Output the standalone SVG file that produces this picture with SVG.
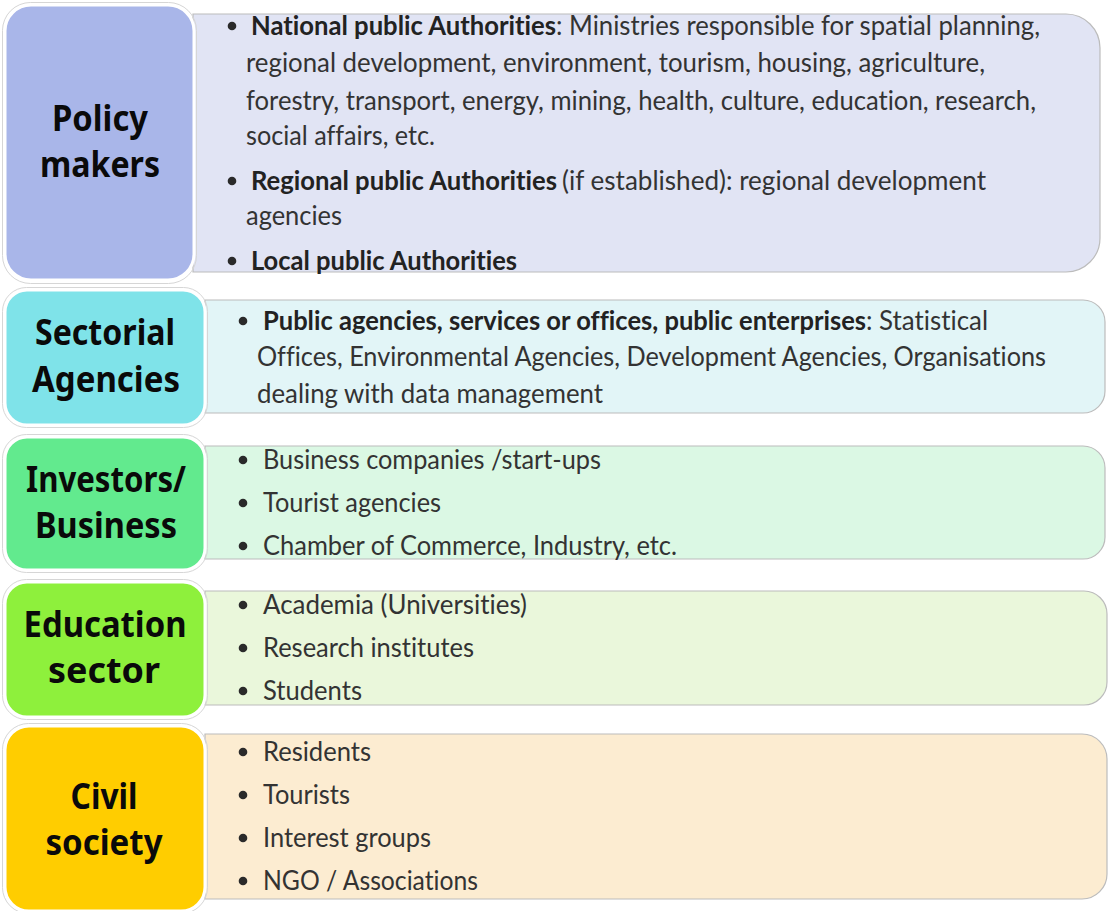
<svg xmlns="http://www.w3.org/2000/svg" width="1108" height="911" viewBox="0 0 1108 911">
<style>
.lab{font-family:"Noto Sans","Open Sans",sans-serif;font-weight:700;font-size:35px;fill:#0a0a0a;text-anchor:middle}
.t{font-family:Lato,"Liberation Sans",sans-serif;font-size:26px;fill:#333;font-variant-ligatures:none}
.b{font-weight:700;fill:#222}
.lbox{stroke:#ffffff;stroke-width:3}
.halo{fill:none;stroke:#d6d6d6;stroke-width:1}
.rbox{stroke:#bcbcbc;stroke-width:1.2}
.dot{fill:#2a2a2a}
</style>
<rect width="1108" height="911" fill="#ffffff"/>

<g id="policy-makers">
<path class="rbox" fill="#e1e4f4" d="M193,14 H1066 A34,34 0 0 1 1100,48 V238 A34,34 0 0 1 1066,272 H193 Z"/>
<rect class="halo" x="2.5" y="2.5" width="194" height="281" rx="28"/>
<rect class="lbox" fill="#a9b6e9" x="5" y="5" width="189" height="275" rx="26"/>
<text class="lab" x="100" y="131" textLength="96" lengthAdjust="spacingAndGlyphs">Policy</text>
<text class="lab" x="100" y="177" textLength="120" lengthAdjust="spacingAndGlyphs">makers</text>
<circle class="dot" cx="232" cy="26" r="4.3"/>
<text class="t b" x="251" y="35" textLength="305" lengthAdjust="spacingAndGlyphs">National public Authorities</text>
<text class="t" x="556" y="35" textLength="484" lengthAdjust="spacingAndGlyphs">: Ministries responsible for spatial planning,</text>
<text class="t" x="246" y="72" textLength="739" lengthAdjust="spacingAndGlyphs">regional development, environment, tourism, housing, agriculture,</text>
<text class="t" x="246" y="110" textLength="790" lengthAdjust="spacingAndGlyphs">forestry, transport, energy, mining, health, culture, education, research,</text>
<text class="t" x="246" y="145" textLength="189" lengthAdjust="spacingAndGlyphs">social affairs, etc.</text>
<circle class="dot" cx="232" cy="181" r="4.3"/>
<text class="t b" x="251" y="190" textLength="306" lengthAdjust="spacingAndGlyphs">Regional public Authorities</text>
<text class="t" x="562" y="190" textLength="424" lengthAdjust="spacingAndGlyphs">(if established): regional development</text>
<text class="t" x="246" y="225" textLength="96" lengthAdjust="spacingAndGlyphs">agencies</text>
<circle class="dot" cx="232" cy="261" r="4.3"/>
<text class="t b" x="251" y="270" textLength="266" lengthAdjust="spacingAndGlyphs">Local public Authorities</text>
</g>

<g id="sectorial-agencies">
<path class="rbox" fill="#e2f5f7" d="M205,300 H1083 A22,22 0 0 1 1105,322 V391 A22,22 0 0 1 1083,413 H205 Z"/>
<rect class="halo" x="2.5" y="287.5" width="205" height="140" rx="24"/>
<rect class="lbox" fill="#7fe3e9" x="5" y="290" width="200" height="135" rx="22"/>
<text class="lab" x="105" y="345" textLength="140" lengthAdjust="spacingAndGlyphs">Sectorial</text>
<text class="lab" x="106" y="392" textLength="148" lengthAdjust="spacingAndGlyphs">Agencies</text>
<circle class="dot" cx="243" cy="321" r="4.3"/>
<text class="t b" x="263" y="330" textLength="603" lengthAdjust="spacingAndGlyphs">Public agencies, services or offices, public enterprises</text>
<text class="t" x="866" y="330" textLength="122" lengthAdjust="spacingAndGlyphs">: Statistical</text>
<text class="t" x="257" y="366" textLength="789" lengthAdjust="spacingAndGlyphs">Offices, Environmental Agencies, Development Agencies, Organisations</text>
<text class="t" x="257" y="403" textLength="346" lengthAdjust="spacingAndGlyphs">dealing with data management</text>
</g>

<g id="investors-business">
<path class="rbox" fill="#dbf8e4" d="M205,446 H1083 A22,22 0 0 1 1105,468 V537 A22,22 0 0 1 1083,559 H205 Z"/>
<rect class="halo" x="2.5" y="434.5" width="205" height="138" rx="24"/>
<rect class="lbox" fill="#62ea8e" x="5" y="437" width="200" height="133" rx="22"/>
<text class="lab" x="106" y="492" textLength="160" lengthAdjust="spacingAndGlyphs">Investors/</text>
<text class="lab" x="106" y="538" textLength="142" lengthAdjust="spacingAndGlyphs">Business</text>
<circle class="dot" cx="243" cy="460" r="4.3"/>
<text class="t" x="263" y="469" textLength="338" lengthAdjust="spacingAndGlyphs">Business companies /start-ups</text>
<circle class="dot" cx="243" cy="503" r="4.3"/>
<text class="t" x="263" y="512" textLength="178" lengthAdjust="spacingAndGlyphs">Tourist agencies</text>
<circle class="dot" cx="243" cy="546" r="4.3"/>
<text class="t" x="263" y="555" textLength="414" lengthAdjust="spacingAndGlyphs">Chamber of Commerce, Industry, etc.</text>
</g>

<g id="education-sector">
<path class="rbox" fill="#eaf7db" d="M205,591 H1084 A23,23 0 0 1 1107,614 V682 A23,23 0 0 1 1084,705 H205 Z"/>
<rect class="halo" x="2.5" y="579.5" width="205" height="140" rx="24"/>
<rect class="lbox" fill="#8ef03c" x="5" y="582" width="200" height="135" rx="22"/>
<text class="lab" x="105" y="637" textLength="163" lengthAdjust="spacingAndGlyphs">Education</text>
<text class="lab" x="104" y="683" textLength="112" lengthAdjust="spacingAndGlyphs">sector</text>
<circle class="dot" cx="243" cy="605" r="4.3"/>
<text class="t" x="263" y="614" textLength="264" lengthAdjust="spacingAndGlyphs">Academia (Universities)</text>
<circle class="dot" cx="243" cy="648" r="4.3"/>
<text class="t" x="263" y="657" textLength="211" lengthAdjust="spacingAndGlyphs">Research institutes</text>
<circle class="dot" cx="243" cy="691" r="4.3"/>
<text class="t" x="263" y="700" textLength="99" lengthAdjust="spacingAndGlyphs">Students</text>
</g>

<g id="civil-society">
<path class="rbox" fill="#fcecd1" d="M205,734 H1082 A25,25 0 0 1 1107,759 V874 A25,25 0 0 1 1082,899 H205 Z"/>
<rect class="halo" x="2.5" y="723.5" width="205" height="190" rx="26"/>
<rect class="lbox" fill="#ffcd00" x="5" y="726" width="200" height="185" rx="24"/>
<text class="lab" x="104" y="809" textLength="67" lengthAdjust="spacingAndGlyphs">Civil</text>
<text class="lab" x="104" y="855" textLength="117" lengthAdjust="spacingAndGlyphs">society</text>
<circle class="dot" cx="243" cy="752" r="4.3"/>
<text class="t" x="263" y="761" textLength="108" lengthAdjust="spacingAndGlyphs">Residents</text>
<circle class="dot" cx="243" cy="795" r="4.3"/>
<text class="t" x="263" y="804" textLength="87" lengthAdjust="spacingAndGlyphs">Tourists</text>
<circle class="dot" cx="243" cy="838" r="4.3"/>
<text class="t" x="263" y="847" textLength="168" lengthAdjust="spacingAndGlyphs">Interest groups</text>
<circle class="dot" cx="243" cy="881" r="4.3"/>
<text class="t" x="263" y="890" textLength="215" lengthAdjust="spacingAndGlyphs">NGO / Associations</text>
</g>
</svg>
